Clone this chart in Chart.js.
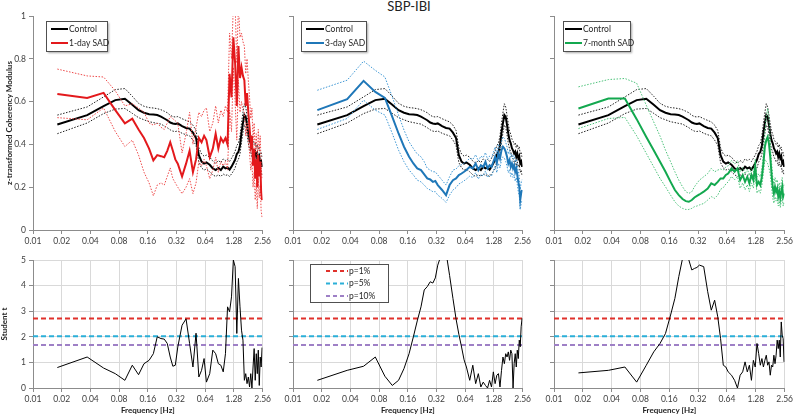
<!DOCTYPE html>
<html>
<head>
<meta charset="utf-8">
<script src="https://cdn.jsdelivr.net/npm/chart.js@4"></script>
<style>
  body { margin: 0; background: #fff; width: 793px; height: 415px; position: relative; overflow: hidden; font-family: Lato, sans-serif; }
  canvas { position: absolute; }
  #title { position: absolute; left: 359px; top: 0; width: 100px; text-align: center; font-size: 13px; line-height: 13px; color: #222; }
</style>
</head>
<body>
<div id="title">SBP-IBI</div>
<canvas id="top1" width="273" height="250" style="left:0;top:0"></canvas>
<canvas id="top2" width="273" height="250" style="left:260px;top:0"></canvas>
<canvas id="top3" width="274" height="250" style="left:521px;top:0"></canvas>
<canvas id="bot1" width="273" height="170" style="left:0;top:245px"></canvas>
<canvas id="bot2" width="273" height="170" style="left:260px;top:245px"></canvas>
<canvas id="bot3" width="274" height="170" style="left:521px;top:245px"></canvas>
<script>
// frequency grid [Hz]
const FREQ = [0.018, 0.037, 0.055, 0.073, 0.092, 0.110, 0.128, 0.146, 0.165,
  0.183, 0.201, 0.220, 0.238, 0.256, 0.275, 0.293, 0.311,
  0.330, 0.366, 0.403, 0.439, 0.476, 0.513, 0.549, 0.586, 0.623,
  0.659, 0.714, 0.769, 0.824, 0.879, 0.934, 0.989, 1.044, 1.098, 1.153, 1.208, 1.263,
  1.318, 1.373, 1.428, 1.483, 1.538, 1.593, 1.648, 1.703, 1.758, 1.813, 1.868, 1.923, 1.978,
  2.033, 2.087, 2.142, 2.197, 2.252, 2.307, 2.362, 2.417, 2.472, 2.527];

const X_TICKS = [0.01, 0.02, 0.04, 0.08, 0.16, 0.32, 0.64, 1.28, 2.56];
const X_LABELS = ['0.01', '0.02', '0.04', '0.08', '0.16', '0.32', '0.64', '1.28', '2.56'];
const Y_TOP_LABELS = ['0', '0.2', '0.4', '0.6', '0.8', '1'];
const Y_BOT_LABELS = ['0', '1', '2', '3', '4', '5'];

// control group (shared by the three top panels)
const CONTROL = [0.493, 0.537, 0.579, 0.607, 0.613, 0.585, 0.560, 0.548, 0.541,
  0.540, 0.537, 0.530, 0.521, 0.513, 0.502, 0.498, 0.495,
  0.498, 0.485, 0.477, 0.474, 0.455, 0.430, 0.350, 0.320, 0.310,
  0.316, 0.305, 0.288, 0.280, 0.290, 0.280, 0.296, 0.288, 0.292, 0.282, 0.296, 0.312,
  0.328, 0.355, 0.365, 0.395, 0.455, 0.500, 0.537, 0.528, 0.490, 0.450, 0.420, 0.405, 0.382,
  0.372, 0.358, 0.366, 0.342, 0.358, 0.335, 0.345, 0.312, 0.320, 0.295];
const CONTROL_UP = [0.537, 0.575, 0.622, 0.656, 0.661, 0.625, 0.592, 0.578, 0.572,
  0.570, 0.567, 0.562, 0.555, 0.548, 0.536, 0.530, 0.528,
  0.530, 0.520, 0.512, 0.505, 0.490, 0.465, 0.385, 0.355, 0.345,
  0.350, 0.340, 0.322, 0.312, 0.325, 0.315, 0.332, 0.325, 0.330, 0.320, 0.335, 0.350,
  0.368, 0.395, 0.405, 0.440, 0.500, 0.550, 0.590, 0.575, 0.535, 0.495, 0.462, 0.448, 0.425,
  0.415, 0.400, 0.408, 0.385, 0.400, 0.378, 0.388, 0.355, 0.362, 0.340];
const CONTROL_LO = [0.450, 0.500, 0.544, 0.565, 0.568, 0.545, 0.525, 0.515, 0.506,
  0.502, 0.498, 0.495, 0.486, 0.478, 0.468, 0.462, 0.460,
  0.463, 0.452, 0.445, 0.440, 0.420, 0.395, 0.315, 0.290, 0.280,
  0.285, 0.272, 0.258, 0.250, 0.258, 0.250, 0.262, 0.255, 0.258, 0.250, 0.262, 0.275,
  0.290, 0.318, 0.330, 0.355, 0.410, 0.455, 0.490, 0.480, 0.445, 0.405, 0.378, 0.365, 0.342,
  0.332, 0.318, 0.325, 0.300, 0.318, 0.295, 0.305, 0.270, 0.280, 0.255];

// 1-day SAD
const SAD1 = [0.635, 0.617, 0.641, 0.560, 0.498, 0.520, 0.470, 0.430, 0.380,
  0.325, 0.350, 0.345, 0.340, 0.370, 0.410, 0.370, 0.330,
  0.310, 0.250, 0.310, 0.370, 0.270, 0.330, 0.430, 0.410, 0.440,
  0.420, 0.340, 0.380, 0.450, 0.380, 0.430, 0.410, 0.430, 0.400, 0.730, 0.620, 0.900,
  0.780, 0.580, 0.860, 0.710, 0.760, 0.720, 0.700, 0.580, 0.640, 0.550, 0.480, 0.400, 0.440,
  0.300, 0.380, 0.240, 0.330, 0.200, 0.350, 0.250, 0.320, 0.180, 0.140];
const SAD1_UP = [0.752, 0.720, 0.715, 0.650, 0.580, 0.590, 0.570, 0.550, 0.500,
  0.490, 0.500, 0.480, 0.470, 0.500, 0.530, 0.520, 0.510,
  0.500, 0.360, 0.450, 0.550, 0.400, 0.480, 0.550, 0.530, 0.560,
  0.570, 0.460, 0.500, 0.580, 0.500, 0.560, 0.530, 0.580, 0.550, 0.920, 0.800, 1.050,
  1.050, 0.780, 1.050, 0.900, 0.920, 0.880, 0.860, 0.730, 0.800, 0.700, 0.620, 0.520, 0.570,
  0.420, 0.500, 0.360, 0.450, 0.320, 0.470, 0.370, 0.440, 0.300, 0.240];
const SAD1_LO = [0.525, 0.515, 0.570, 0.460, 0.390, 0.420, 0.350, 0.270, 0.220,
  0.160, 0.210, 0.220, 0.210, 0.250, 0.290, 0.240, 0.220,
  0.200, 0.170, 0.200, 0.240, 0.170, 0.220, 0.320, 0.300, 0.330,
  0.300, 0.240, 0.280, 0.340, 0.270, 0.320, 0.300, 0.320, 0.280, 0.560, 0.460, 0.760,
  0.600, 0.420, 0.700, 0.550, 0.600, 0.560, 0.550, 0.440, 0.500, 0.420, 0.360, 0.280, 0.320,
  0.200, 0.270, 0.140, 0.220, 0.100, 0.240, 0.150, 0.210, 0.090, 0.060];

// 3-day SAD
const SAD3 = [0.560, 0.611, 0.697, 0.645, 0.617, 0.529, 0.451, 0.389, 0.342,
  0.311, 0.288, 0.280, 0.260, 0.241, 0.236, 0.225, 0.229,
  0.210, 0.187, 0.163, 0.210, 0.233, 0.241, 0.257, 0.264, 0.272,
  0.280, 0.295, 0.288, 0.311, 0.280, 0.303, 0.295, 0.319, 0.288, 0.303, 0.295, 0.319,
  0.342, 0.311, 0.358, 0.334, 0.373, 0.389, 0.381, 0.365, 0.342, 0.311, 0.327, 0.295, 0.311,
  0.288, 0.303, 0.272, 0.288, 0.257, 0.225, 0.202, 0.140, 0.171, 0.187];
const SAD3_UP = [0.653, 0.700, 0.789, 0.746, 0.715, 0.622, 0.537, 0.467, 0.412,
  0.381, 0.355, 0.342, 0.319, 0.288, 0.280, 0.272, 0.272,
  0.257, 0.233, 0.210, 0.249, 0.280, 0.285, 0.300, 0.305, 0.312,
  0.320, 0.335, 0.330, 0.352, 0.322, 0.345, 0.338, 0.362, 0.330, 0.345, 0.338, 0.362,
  0.388, 0.355, 0.402, 0.378, 0.418, 0.435, 0.428, 0.410, 0.388, 0.355, 0.372, 0.340, 0.355,
  0.332, 0.348, 0.318, 0.332, 0.302, 0.272, 0.250, 0.190, 0.220, 0.235];
const SAD3_LO = [0.470, 0.521, 0.607, 0.560, 0.537, 0.451, 0.373, 0.319, 0.280,
  0.257, 0.233, 0.225, 0.210, 0.194, 0.187, 0.179, 0.179,
  0.163, 0.148, 0.129, 0.163, 0.187, 0.198, 0.215, 0.222, 0.230,
  0.238, 0.252, 0.245, 0.268, 0.238, 0.260, 0.252, 0.276, 0.245, 0.260, 0.252, 0.276,
  0.298, 0.268, 0.312, 0.290, 0.328, 0.342, 0.335, 0.320, 0.298, 0.268, 0.282, 0.250, 0.268,
  0.245, 0.258, 0.228, 0.245, 0.212, 0.180, 0.158, 0.095, 0.125, 0.140];

// 7-month SAD
const SAD7 = [0.568, 0.614, 0.614, 0.518, 0.435, 0.373, 0.319, 0.272, 0.225,
  0.187, 0.163, 0.145, 0.135, 0.132, 0.140, 0.152, 0.159,
  0.166, 0.179, 0.194, 0.218, 0.210, 0.225, 0.241, 0.241, 0.257,
  0.264, 0.288, 0.272, 0.288, 0.233, 0.257, 0.225, 0.249, 0.218, 0.257, 0.233, 0.295,
  0.210, 0.225, 0.210, 0.249, 0.311, 0.389, 0.420, 0.435, 0.404, 0.342, 0.264, 0.202, 0.171,
  0.202, 0.179, 0.194, 0.156, 0.179, 0.148, 0.179, 0.202, 0.156, 0.171];
const SAD7_UP = [0.669, 0.703, 0.708, 0.686, 0.583, 0.505, 0.439, 0.373, 0.319,
  0.272, 0.233, 0.202, 0.179, 0.171, 0.179, 0.202, 0.218,
  0.233, 0.249, 0.264, 0.288, 0.272, 0.280, 0.285, 0.280, 0.295,
  0.300, 0.325, 0.308, 0.325, 0.270, 0.292, 0.262, 0.285, 0.255, 0.292, 0.270, 0.330,
  0.248, 0.262, 0.248, 0.288, 0.355, 0.450, 0.530, 0.568, 0.520, 0.420, 0.320, 0.250, 0.215,
  0.245, 0.222, 0.235, 0.198, 0.220, 0.190, 0.220, 0.245, 0.198, 0.212];
const SAD7_LO = [0.474, 0.521, 0.526, 0.440, 0.358, 0.295, 0.241, 0.202, 0.163,
  0.132, 0.112, 0.101, 0.096, 0.096, 0.101, 0.109, 0.112,
  0.117, 0.124, 0.140, 0.156, 0.148, 0.163, 0.190, 0.198, 0.215,
  0.225, 0.250, 0.235, 0.250, 0.195, 0.220, 0.188, 0.212, 0.180, 0.220, 0.196, 0.258,
  0.172, 0.188, 0.172, 0.210, 0.268, 0.330, 0.320, 0.310, 0.290, 0.260, 0.205, 0.150, 0.125,
  0.155, 0.135, 0.150, 0.112, 0.135, 0.105, 0.135, 0.160, 0.112, 0.128];

// Student t, SAD vs control
const T1 = [0.80, 1.21, 0.78, 0.56, 0.30, 0.89, 0.52, 0.95, 1.08,
  1.34, 2.00, 1.93, 1.91, 1.74, 1.21, 0.85, 0.89,
  1.60, 2.45, 2.70, 1.74, 0.82, 2.14, 0.43, 0.69, 1.15,
  0.23, 0.56, 1.48, 1.34, 0.95, 0.89, 0.63, 1.34, 3.17, 2.98, 3.56, 5.00,
  4.74, 2.13, 4.28, 3.17, 2.26, 1.87, 0.30, 0.56, 0.17, 0.43, 0.04, 0.56, 0.00,
  0.82, 1.54, 0.30, 1.34, 0.56, 1.48, 0.10, 1.21, 0.82, 1.58];
const T3 = [0.30, 0.69, 0.85, 1.21, 0.46, 0.10, 0.30, 0.76, 1.34,
  2.00, 2.62, 3.17, 3.83, 3.96, 4.15, 4.10, 4.30,
  4.80, 5.30, 5.30, 4.40, 3.50, 2.70, 2.10, 1.60, 1.10,
  0.82, 0.30, 0.89, 0.17, 0.56, 0.04, 0.23, 0.10, 0.00, 0.30, 0.04, 0.63,
  0.17, 0.50, 0.56, 0.04, 0.69, 1.21, 0.95, 1.34, 1.21, 1.41, 1.08, 1.48, 1.34,
  0.00, 0.95, 1.34, 0.82, 1.48, 1.15, 1.87, 1.61, 2.39, 2.72];
const T7 = [0.59, 0.69, 0.82, 0.23, 0.89, 1.41, 1.74, 2.13, 2.85,
  3.50, 4.35, 5.06, 5.30, 5.00, 4.61, 4.67, 4.71,
  4.80, 4.74, 3.76, 3.04, 3.43, 2.78, 1.93, 0.89, 0.82,
  0.63, 0.50, 0.30, 0.00, 0.50, 0.63, 1.02, 0.63, 0.89, 0.30, 1.08, 0.82,
  1.74, 1.34, 0.89, 1.15, 0.82, 1.08, 1.28, 0.89, 1.02, 0.50, 0.89, 0.82, 1.28,
  0.95, 1.28, 1.87, 1.54, 1.87, 1.21, 2.58, 2.06, 1.93, 1.02];

// significance levels
const P_LABELS = ['p=1%', 'p=5%', 'p=10%'];
const P_VALUES = [2.71, 2.02, 1.68];
const P_COLORS = ['#e0312b', '#2bafd8', '#9e80c6'];

Chart.defaults.font.family = 'Lato, "Open Sans", sans-serif';
Chart.defaults.font.size = 8.5;
Chart.defaults.color = '#404040';

const AXIS = '#8c8c8c';
const GRID = '#d9d9d9';

// legend box drawn inside the plot
const boxLegend = {
    id: 'boxLegend',
    afterDatasetsDraw(chart, args, o) {
        if (!o.items) return;
        const ctx = chart.ctx;
        ctx.save();
        if (o.shadow) {
            ctx.shadowColor = 'rgba(0,0,0,0.35)';
            ctx.shadowOffsetX = 2;
            ctx.shadowOffsetY = 2;
            ctx.shadowBlur = 2;
        }
        ctx.fillStyle = '#fff';
        ctx.fillRect(o.x, o.y, o.w, o.h);
        ctx.shadowColor = 'transparent';
        ctx.strokeStyle = '#505050';
        ctx.lineWidth = 1;
        ctx.strokeRect(o.x + 0.5, o.y + 0.5, o.w, o.h);
        o.items.forEach((it, i) => {
            const y = o.y + o.rowTop + i * o.rowGap;
            ctx.strokeStyle = it.color;
            ctx.lineWidth = 2;
            ctx.setLineDash(it.dash || []);
            ctx.beginPath();
            ctx.moveTo(o.x + o.lineX0, y);
            ctx.lineTo(o.x + o.lineX1, y);
            ctx.stroke();
            ctx.setLineDash([]);
            ctx.fillStyle = '#262626';
            ctx.font = '8.5px Lato, sans-serif';
            ctx.textBaseline = 'middle';
            ctx.fillText(it.text, o.x + o.lineX1 + 1, y);
        });
        ctx.restore();
    }
};

function series(values, color, width, dash) {
    return {
        data: FREQ.map((f, i) => ({ x: f, y: values[i] })),
        borderColor: color,
        borderWidth: width,
        borderDash: dash || [],
        pointRadius: 0,
        tension: 0,
        fill: false
    };
}

function xScale(bottom) {
    return {
        type: 'logarithmic',
        min: 0.01,
        max: 2.56,
        afterBuildTicks: s => { s.ticks = X_TICKS.map(v => ({ value: v })); },
        afterFit: s => { s.height = bottom ? 27 : 20; },
        ticks: { autoSkip: false, maxRotation: 0, padding: 2, callback: (v, i) => X_LABELS[i] },
        grid: { drawOnChartArea: bottom, tickLength: 4, color: bottom ? GRID : AXIS, tickColor: AXIS },
        border: { color: AXIS },
        title: { display: bottom, text: 'Frequency [Hz]', color: '#222', font: { size: 8, weight: 'bold' }, padding: 0 }
    };
}

function baseOptions(scales, legend, padTop) {
    return {
        responsive: false,
        animation: false,
        devicePixelRatio: 1,
        events: [],
        layout: { padding: { top: padTop, right: 10, left: 0, bottom: 0 } },
        plugins: { legend: { display: false }, tooltip: { enabled: false }, boxLegend: legend },
        scales
    };
}

function topPanel(id, mean, up, lo, color, light, label, first, legend) {
    new Chart(document.getElementById(id), {
        type: 'line',
        data: {
            datasets: [
                series(mean, color, 2),
                series(up, light, 1, [1.5, 1.5]),
                series(lo, light, 1, [1.5, 1.5]),
                series(CONTROL, '#000', 2),
                series(CONTROL_UP, '#222', 1, [1.5, 1.5]),
                series(CONTROL_LO, '#222', 1, [1.5, 1.5])
            ]
        },
        options: baseOptions({
            x: xScale(false),
            y: {
                min: 0, max: 1,
                afterFit: s => { s.width = 33; },
                ticks: { stepSize: 0.2, padding: 3, display: first, callback: (v, i) => Y_TOP_LABELS[i] },
                grid: { drawOnChartArea: false, tickLength: 4, color: AXIS },
                border: { color: AXIS },
                title: { display: first, text: 'z-transformed Coherency Modulus', color: '#222', font: { size: 8, weight: 'bold' }, padding: { top: 5, bottom: 0 } }
            }
        }, Object.assign({
            shadow: true, y: 21, h: 30, rowTop: 8, rowGap: 14, lineX0: 5,
            items: [{ text: 'Control', color: '#000' }, { text: label, color: color }]
        }, legend), 16),
        plugins: [boxLegend]
    });
}

function bottomPanel(id, t, first, legend) {
    const sets = [series(t, '#000', 1)];
    P_VALUES.forEach((v, i) => {
        sets.push({
            data: [{ x: 0.01, y: v }, { x: 2.56, y: v }],
            borderColor: P_COLORS[i], borderWidth: 2, borderDash: [5, 3], pointRadius: 0, fill: false
        });
    });
    new Chart(document.getElementById(id), {
        type: 'line',
        data: { datasets: sets },
        options: baseOptions({
            x: xScale(true),
            y: {
                min: 0, max: 5,
                afterFit: s => { s.width = 33; },
                ticks: { stepSize: 1, padding: 3, display: first, callback: (v, i) => Y_BOT_LABELS[i] },
                grid: { tickLength: 4, color: GRID, tickColor: AXIS },
                border: { color: AXIS },
                title: { display: first, text: 'Student t', color: '#222', font: { size: 8, weight: 'bold' }, padding: 0 }
            }
        }, legend, 15),
        plugins: [boxLegend]
    });
}

topPanel('top1', SAD1, SAD1_UP, SAD1_LO, '#e3191c', '#ee4a4a', '1-day SAD', true, { x: 46, w: 61, lineX1: 22 });
topPanel('top2', SAD3, SAD3_UP, SAD3_LO, '#1f77b8', '#3f97d4', '3-day SAD', false, { x: 41, w: 65, lineX1: 23 });
topPanel('top3', SAD7, SAD7_UP, SAD7_LO, '#13a84f', '#4cc27a', '7-month SAD', false, { x: 42, w: 67, lineX1: 19, lineX0: 2 });

bottomPanel('bot1', T1, true, {});
bottomPanel('bot2', T3, false, {
    x: 50, y: 19, w: 78, h: 38, rowTop: 7, rowGap: 12.5, lineX0: 16, lineX1: 38,
    items: P_LABELS.map((p, i) => ({ text: p, color: P_COLORS[i], dash: [4, 3] }))
});
bottomPanel('bot3', T7, false, {});
</script>
</body>
</html>
